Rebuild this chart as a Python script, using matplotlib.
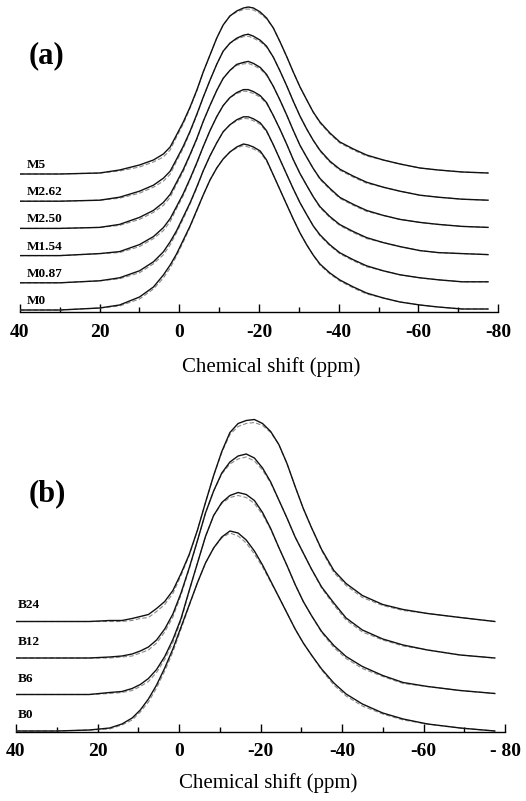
import matplotlib
matplotlib.use("Agg")
import matplotlib.pyplot as plt
import numpy as np

plt.rcParams['font.family'] = ['Liberation Serif', 'DejaVu Serif']

# ---- panel (a): static spectra, heights ----
ppm_a = [40, 30, 20, 15, 10, 6.5, 4, 2.3, 0.7, -1, -2.7, -4.4, -6, -7.7, -9.4,
         -11, -12.7, -14.4, -16.1, -17.3, -18.6, -20.3, -21.9, -23.6, -25.3,
         -27, -28.6, -30.3, -32, -33.6, -35.3, -37.8, -40.3, -43.7, -47,
         -51.2, -55.4, -60.4, -65, -71, -77.5]
names_a = ['M0', 'M0.87', 'M1.54', 'M2.50', 'M2.62', 'M5']
M0    = [0, 0, 2, 5, 13, 23, 35, 45, 56, 70, 84, 100, 115, 130, 142, 151, 158, 163, 166, 165, 163,
         159, 150, 135, 120, 105, 91, 77, 65, 55, 46, 37, 30, 23, 17, 12, 8, 5, 3, 1, 1]
M0_87 = [0, 0, 2, 5, 12, 21, 31, 41, 52, 66, 80, 96, 112, 127, 140, 151, 158, 163, 166, 166, 164,
         160, 152, 138, 123, 108, 94, 80, 68, 57, 48, 38, 30, 23, 17, 12, 8, 5, 3, 1, 1]
M1_54 = [0, 0, 2, 4, 11, 19, 28, 37, 49, 62, 77, 93, 109, 125, 139, 150, 158, 163, 166, 166, 164,
         160, 153, 140, 126, 111, 96, 82, 70, 59, 49, 39, 31, 24, 18, 13, 9, 5, 3, 2, 1]
M2_50 = [0, 0, 1, 4, 11, 18, 26, 34, 46, 59, 74, 90, 107, 123, 138, 150, 158, 164, 166, 167, 165,
         161, 154, 142, 128, 113, 98, 83, 71, 60, 50, 40, 31, 24, 18, 13, 9, 6, 4, 2, 1]
M2_62 = [0, 0, 1, 4, 10, 16, 23, 30, 42, 55, 70, 87, 104, 121, 137, 150, 158, 163, 166, 167, 165,
         161, 155, 144, 130, 115, 100, 85, 72, 61, 51, 40, 32, 25, 19, 14, 10, 6, 4, 2, 1]
M5    = [0, 0, 1, 4, 9, 14, 20, 27, 39, 52, 67, 84, 102, 119, 136, 149, 158, 163, 166, 167, 166,
         162, 156, 146, 132, 117, 102, 87, 74, 62, 52, 41, 32, 25, 19, 14, 10, 6, 4, 2, 1]
# simulated minus experimental (dashed vs solid)
fit_diff_a = [0, 0, 0, -1, -2, -2, -3, -3, -2, -2, -1, -1, 0, 0, 0, 0, 0, -1, -1.5, -2, -2,
              -1.5, -1, 0, 0, 0, 0, 0, 0, 0, -1, -1, -1, -1, -1, 0, 0, 0, 0, 0, 0]

# ---- panel (b) ----
ppm_b = [40, 30, 22, 17, 14, 11.5, 9.5, 7.5, 5.5, 3.5, 1.5, -0.5, -2.5, -4.5, -6.5, -8.5,
         -10.5, -12.5, -14.5, -16.5, -18.5, -20.5, -22.5, -24.5, -26.5, -28.5, -30.5,
         -32.5, -35, -38, -41, -45, -50, -55, -61, -69, -77.5]
names_b = ['B0', 'B6', 'B12', 'B24']
B0  = [0, 0, 1, 3, 7, 13, 21, 32, 46, 63, 82, 104, 126, 148, 168, 183, 194, 200, 198, 191, 180,
       166, 150, 134, 118, 102, 88, 76, 62, 48, 37, 27, 18, 12, 7, 3, 0]
B6  = [0, 0, 0, 2, 3, 6, 10, 16, 25, 38, 55, 76, 104, 131, 158, 179, 192, 199, 202, 200, 194,
       182, 166, 147, 129, 110, 93, 79, 63, 49, 38, 28, 19, 12, 8, 4, 1]
B12 = [0, 0, 0, 1, 2, 4, 7, 11, 18, 29, 44, 65, 90, 117, 145, 167, 185, 196, 202, 204, 200,
       190, 176, 158, 140, 121, 105, 89, 71, 55, 40, 28, 19, 13, 8, 3, 0]
B24 = [0, 0, 0, 1, 1, 3, 5, 7, 13, 20, 31, 48, 67, 91, 119, 146, 170, 189, 198, 201, 202,
       198, 190, 177, 158, 135, 113, 94, 72, 51, 38, 26, 17, 12, 8, 4, 0]
fit_diff_b = [0, 0, 0, -1, -1, -2, -2, -3, -3, -3, -3, -2, -1, 0, 0, 0, -1, -2, -3, -3, -3,
              -2, -1, 0, 0, 0, 0, 0, -1, -2, -2, -2, -1, -1, 0, 0, 0]

ticks = [40, 20, 0, -20, -40, -60, -80]


def draw_panel(ax, ppm, spectra, names, diff, step, base, lab_dy, tag, xl, lab_x,
               ticklabels, ymax, pad):
    diff = np.array(diff)
    for i, (y, nm) in enumerate(zip(spectra, names)):
        off = base + i * step
        y = np.array(y, dtype=float)
        ax.plot(ppm, y + off, color='#111111', lw=1.0, zorder=3,
                solid_joinstyle='round')
        ax.plot(ppm, y + diff + off, color='#8a8a8a', lw=0.8, ls=(0, (4, 2)), zorder=2)
        ax.text(lab_x, off + lab_dy, nm, fontsize=9.5, fontweight='bold',
                ha='left', va='bottom')
    ax.set_xlim(40, -80)
    ax.set_ylim(0, ymax)
    for s in ['top', 'left', 'right']:
        ax.spines[s].set_visible(False)
    ax.spines['bottom'].set_linewidth(1.0)
    ax.set_yticks([])
    ax.set_xticks(ticks)
    ax.set_xticks(range(30, -80, -20), minor=True)
    ax.set_xticklabels(ticklabels)
    ax.tick_params(axis='x', which='major', direction='in', length=6, width=1.0,
                   pad=pad, labelsize=14)
    ax.tick_params(axis='x', which='minor', direction='in', length=3.5, width=1.0)
    for t in ax.get_xticklabels():
        t.set_fontweight('bold')
    ax.set_xlabel('Chemical shift (ppm)', fontsize=15, va='center')
    ax.xaxis.set_label_coords(xl[0], xl[1])
    ax.text(tag[1], tag[2], tag[0], transform=ax.transAxes, fontsize=22,
            fontweight='bold', ha='center', va='center')


fig = plt.figure(figsize=(5.26, 8.01), dpi=100)

ax1 = fig.add_axes([20 / 526, 1 - 312 / 801, 478 / 526, 312 / 801])
draw_panel(ax1, ppm_a, [M0, M0_87, M1_54, M2_50, M2_62, M5], names_a, fit_diff_a,
           27.2, 2, 3, ('(a)', 0.055, 0.82), (0.525, -0.176), 38.3,
           ['40', '20', '0', '-20', '-40', '-60', '-80'], 312, 8.5)

ax2 = fig.add_axes([16 / 526, 1 - 732 / 801, 489 / 526, 322 / 801])
draw_panel(ax2, ppm_b, [B0, B6, B12, B24], names_b, fit_diff_b,
           36.5, 1, 10, ('(b)', 0.065, 0.74), (0.515, -0.158), 39.5,
           ['40', '20', '0', '-20', '-40', '-60', '- 80'], 322, 8)

fig.savefig('out.png', dpi=100)
